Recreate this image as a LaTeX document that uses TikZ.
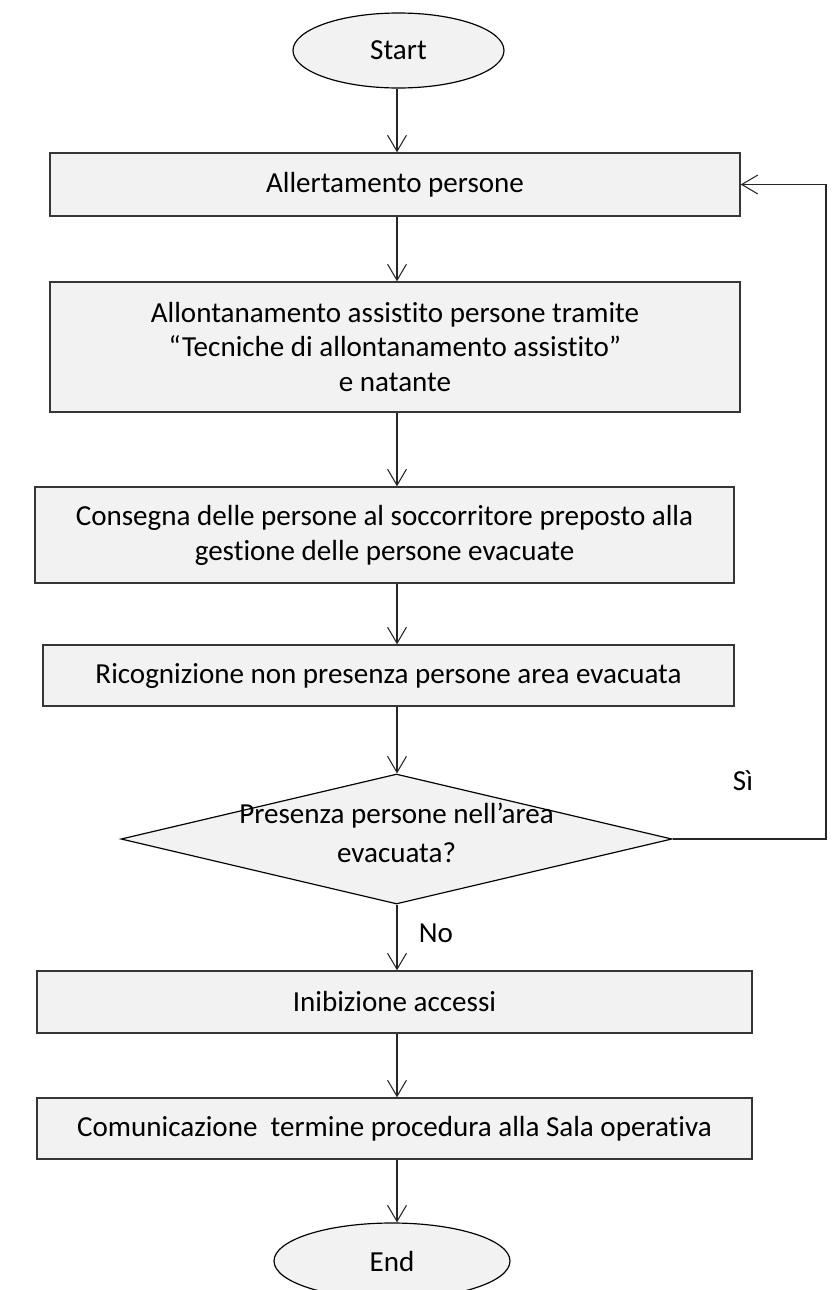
\documentclass[tikz,border=0pt]{standalone}
\usepackage{fontspec}
\setmainfont{Carlito}[Ligatures={NoCommon,NoContextual}]
\usetikzlibrary{shapes.geometric,arrows.meta}
\definecolor{boxfill}{HTML}{F2F2F2}
\definecolor{boxline}{HTML}{363636}
\newdimen\px \px=0.4233pt
\tikzset{
  stepbox/.style={rectangle, draw=boxline, fill=boxfill, line width=0.6pt, inner sep=0pt, align=center},
  termbox/.style={ellipse, draw=black, fill=boxfill, line width=0.5pt, inner sep=0pt},
  askbox/.style={diamond, draw=black, fill=boxfill, line width=0.5pt, inner sep=0pt, align=center},
  flow/.style={draw=black!85, line width=0.45pt, -{Straight Barb[length=6.8pt,width=8pt]}},
  every node/.style={font=\fontsize{12.3}{14.8}\selectfont}
}
\begin{document}
\begin{tikzpicture}[x=0.4233pt, y=-0.4233pt]
      \clip (0,0) rectangle (836,1290);
      \node[termbox, minimum width=211\px, minimum height=75\px] (start) at (398.5,50.5) {Start};
      \node[stepbox, minimum width=690\px, minimum height=63\px] (allert) at (395,184.5) {Allertamento persone};
      \node[stepbox, minimum width=690\px, minimum height=130\px] (allont) at (395,347) {Allontanamento assistito persone tramite\\“Tecniche di allontanamento assistito”\\e natante};
      \node[stepbox, minimum width=699\px, minimum height=96\px] (consegna) at (384.5,535) {Consegna delle persone al soccorritore preposto alla\\gestione delle persone evacuate};
      \node[stepbox, minimum width=691\px, minimum height=61\px] (ricogn) at (388.5,675.5) {Ricognizione non presenza persone area evacuata};
      \node[askbox, aspect=4.24, minimum width=551\px, minimum height=130\px,
        label={[align=center, yshift=2.8pt]center:Presenza persone nell’area\\[1.7pt]evacuata?}] (presenza) at (396.5,839) {};
      \node[stepbox, minimum width=715\px, minimum height=62\px] (inibiz) at (394.5,1002) {Inibizione accessi};
      \node[stepbox, minimum width=715\px, minimum height=61\px] (comunic) at (394.5,1128.5) {Comunicazione\ \ termine procedura alla Sala operativa};
      \node[termbox, minimum width=236\px, minimum height=76\px] (end) at (392,1261) {End};
      \node (si) at (743,781) {Sì};
      \node (no) at (436,933) {No};
      \coordinate (axis) at (397,0);
      \coordinate (loopx) at (826,0);
      \draw[flow] (start.south -| axis) -- (allert.north -| axis);
      \draw[flow] (allert.south -| axis) -- (allont.north -| axis);
      \draw[flow] (allont.south -| axis) -- (consegna.north -| axis);
      \draw[flow] (consegna.south -| axis) -- (ricogn.north -| axis);
      \draw[flow] (ricogn.south -| axis) -- (presenza.north -| axis);
      \draw[flow] (presenza.south -| axis) -- (inibiz.north -| axis);
      \draw[flow] (inibiz.south -| axis) -- (comunic.north -| axis);
      \draw[flow] (comunic.south -| axis) -- (end.north -| axis);
      \draw[flow] (presenza.east) -| (loopx |- allert.east) -- (allert.east);
\end{tikzpicture}
\end{document}
